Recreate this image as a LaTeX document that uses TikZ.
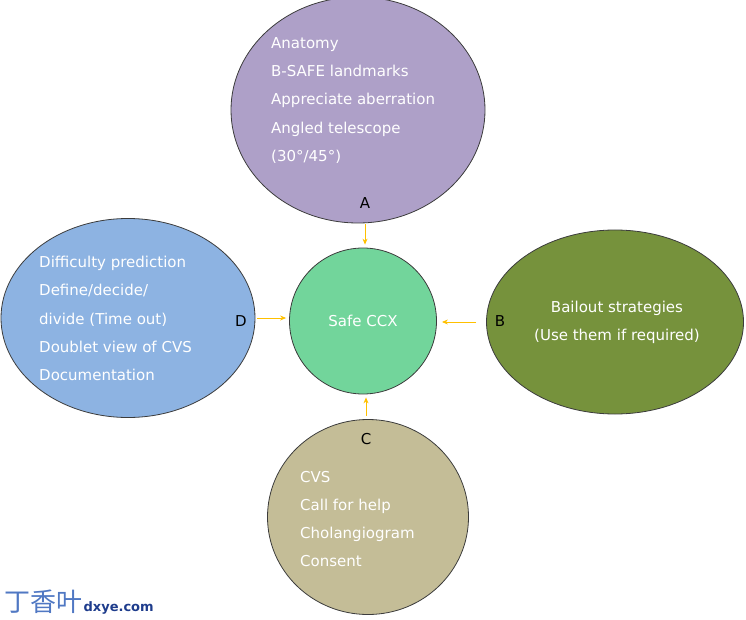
\documentclass[tikz,border=0pt]{standalone}
\usepackage{fontspec}
\setmainfont{DejaVu Sans}
\newfontfamily\cjkfont{Noto Sans CJK SC}
\usetikzlibrary{shapes.geometric,arrows.meta}
\definecolor{cA}{RGB}{174,160,200}
\definecolor{cS}{RGB}{114,213,155}
\definecolor{cB}{RGB}{118,146,60}
\definecolor{cC}{RGB}{196,189,151}
\definecolor{cD}{RGB}{141,179,226}
\definecolor{edge}{RGB}{60,60,60}
\definecolor{arrc}{RGB}{255,192,0}
\definecolor{wmblue}{RGB}{80,120,195}
\definecolor{wmdark}{RGB}{30,60,140}
\begin{document}
\begin{tikzpicture}[x=1pt,y=-1pt,
  blob/.style={ellipse,draw=edge,line width=0.8pt,inner sep=0pt},
  body/.style={text=white,font=\fontsize{15}{28.2}\selectfont,inner sep=0pt},
  lab/.style={text=black,font=\fontsize{15}{18}\selectfont,inner sep=0pt},
  arr/.style={draw=arrc,line width=0.9pt,-{Stealth[length=6pt,width=5pt]}}]
\useasboundingbox (0,0) rectangle (746,620);
\node[blob,fill=cA,minimum width=254pt,minimum height=226pt] (A) at (358,110) {};
\node[blob,fill=cS,minimum width=147pt,minimum height=146pt] (S) at (363,321) {};
\node[blob,fill=cB,minimum width=257pt,minimum height=184pt] (B) at (615,322) {};
\node[blob,fill=cC,minimum width=201pt,minimum height=195pt] (C) at (368,517) {};
\node[blob,fill=cD,minimum width=254pt,minimum height=199pt] (D) at (128,318) {};
\node[body,anchor=west,align=left] (tA) at (271,100.5) {Anatomy\\B-SAFE landmarks\\Appreciate aberration\\Angled telescope\\(30°/45°)};
\node[body,anchor=west,align=left] (tD) at (39,318.5) {Difficulty prediction\\Define/decide/\\divide (Time out)\\Doublet view of CVS\\Documentation};
\node[body,align=center] (tB) at (617,322) {Bailout strategies\\(Use them if required)};
\node[body,anchor=west,align=left] (tC) at (300,519) {CVS\\Call for help\\Cholangiogram\\Consent};
\node[body] (tS) at (363,321) {Safe CCX};
\node[lab] (lA) at (365,203) {A};
\node[lab] (lB) at (500,321) {B};
\node[lab] (lC) at (366,439) {C};
\node[lab] (lD) at (241,321) {D};
\coordinate (a0) at (365,222);
\coordinate (c0) at (366,416);
\draw[arr,shorten <=2pt,shorten >=3pt] (a0) -- (a0 |- S.north);
\draw[arr,shorten <=2pt,shorten >=3pt] (D.east) -- (D.east -| S.west);
\draw[arr,shorten <=10pt,shorten >=5pt] (B.west) -- (B.west -| S.east);
\draw[arr,shorten <=0pt,shorten >=3pt] (c0) -- (c0 |- S.south);
\node[inner sep=0pt,anchor=west,text=wmblue,font=\cjkfont\fontsize{26}{28}\selectfont] (wm1) at (4,602) {丁香叶};
\node[inner sep=0pt,anchor=base west,text=wmdark,font=\bfseries\fontsize{13}{16}\selectfont] (wm2) at ([xshift=1pt]wm1.base east) {dxye.com};
\end{tikzpicture}
\end{document}
